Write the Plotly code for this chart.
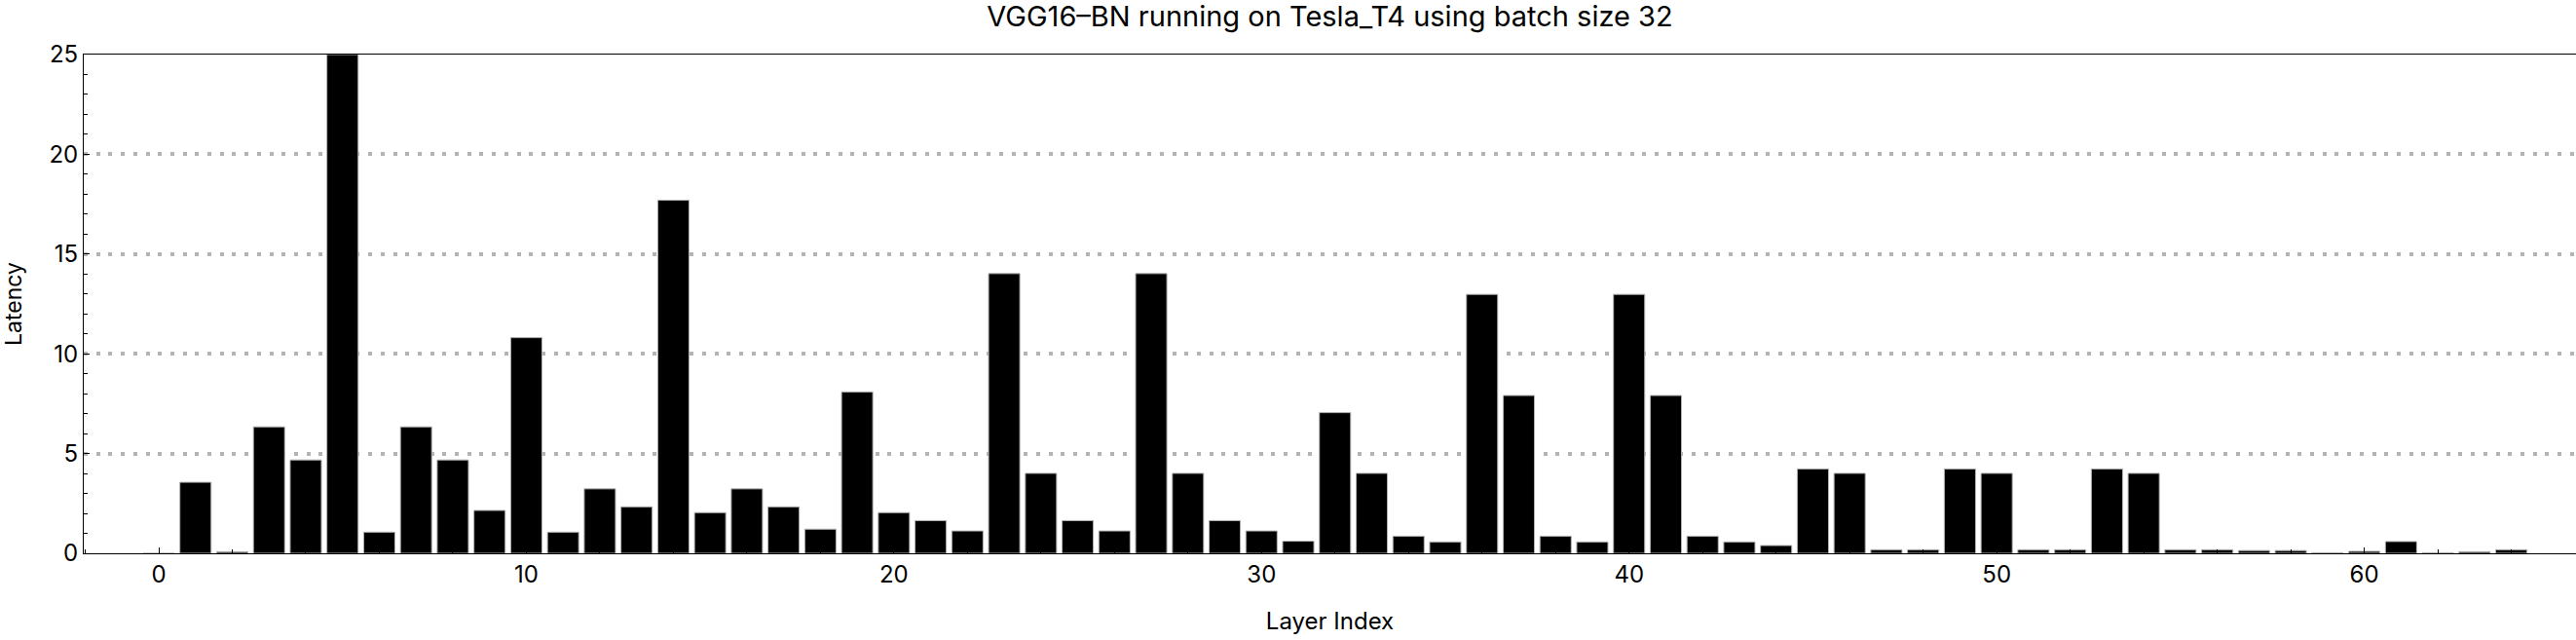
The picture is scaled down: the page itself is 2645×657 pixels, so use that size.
import plotly.graph_objects as go

layer_index = list(range(65))
latency = [
    0, 3.56, 0.08, 6.34, 4.68, 25.0, 1.06, 6.34, 4.68, 2.15,
    10.81, 1.06, 3.23, 2.33, 17.70, 2.04, 3.23, 2.33, 1.21, 8.09,
    2.04, 1.64, 1.12, 14.02, 4.01, 1.64, 1.12, 14.02, 4.01, 1.64,
    1.12, 0.61, 7.05, 4.01, 0.86, 0.57, 12.98, 7.91, 0.86, 0.57,
    12.98, 7.91, 0.86, 0.57, 0.39, 4.23, 4.01, 0.18, 0.18, 4.23,
    4.01, 0.18, 0.18, 4.23, 4.01, 0.18, 0.18, 0.14, 0.14, 0.03,
    0.10, 0.59, 0.03, 0.08, 0.18,
]
x_ticks = [0, 10, 20, 30, 40, 50, 60]
y_ticks = [0, 5, 10, 15, 20, 25]
title_text = "VGG16\u2013BN running on Tesla_T4 using batch size 32"

FONT = "Inter, 'Liberation Sans', sans-serif"

fig = go.Figure()
fig.add_trace(go.Bar(
    x=layer_index, y=latency, width=0.85,
    marker=dict(color="black", line=dict(color="#b4b4b4", width=1)),
    showlegend=False,
))

fig.update_layout(
    width=2645, height=657,
    margin=dict(l=86, r=0, t=56, b=89),
    paper_bgcolor="white", plot_bgcolor="white",
    font=dict(family=FONT, color="black", size=24),
    title=dict(text=title_text, x=0.5, xref="paper", xanchor="center",
               y=1 - 7 / 657, yref="container", yanchor="top",
               font=dict(size=29, family=FONT, color="black")),
    bargap=0.15,
)

fig.update_xaxes(
    range=[-2.04, 65.76], tickmode="array", tickvals=x_ticks,
    ticks="inside", ticklen=6, tickcolor="black", tickwidth=1,
    minor=dict(dtick=2, tick0=0, ticks="inside", ticklen=4, tickcolor="black", showgrid=False),
    showline=True, linecolor="black", linewidth=1, mirror=True,
    showgrid=False, zeroline=False,
    tickfont=dict(size=24), automargin=False,
    title=dict(text="Layer Index", font=dict(size=24), standoff=26),
)
fig.update_yaxes(
    range=[0, 25], tickmode="array", tickvals=y_ticks,
    ticks="inside", ticklen=6, tickcolor="black", tickwidth=1,
    minor=dict(dtick=1, tick0=0, ticks="inside", ticklen=4, tickcolor="black", showgrid=False),
    showline=True, linecolor="black", linewidth=1, mirror=False,
    showgrid=True, gridcolor="#b4b4b4", gridwidth=4, griddash="4px,8.7px",
    zeroline=False, tickfont=dict(size=24), automargin=False,
    title=dict(text="Latency", font=dict(size=23), standoff=22),
)

fig.write_html(
    "out.html",
    config={"displayModeBar": False},
    post_script="document.body.style.margin='0px';document.body.style.overflow='hidden';",
)
